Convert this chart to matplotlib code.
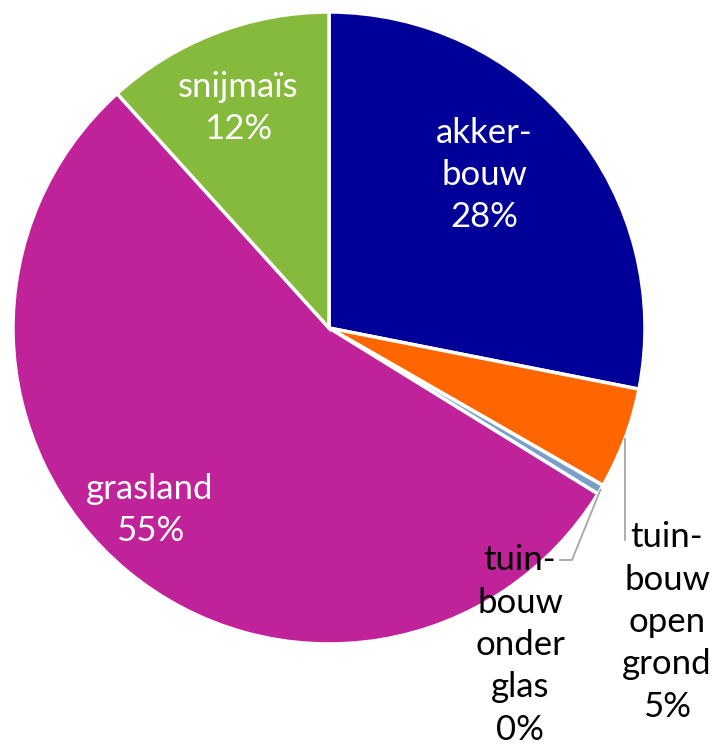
import numpy as np
import matplotlib
matplotlib.use("Agg")
import matplotlib.pyplot as plt

categories = ["akkerbouw", "tuinbouw open grond", "tuinbouw onder glas", "grasland", "snijmaïs"]
label_texts = ["akker-\nbouw", "tuin-\nbouw\nopen\ngrond", "tuin-\nbouw\nonder\nglas", "grasland", "snijmaïs"]
values = [28.1, 5.2, 0.5, 54.5, 11.7]
pct_labels = ["28%", "5%", "0%", "55%", "12%"]
colors = ["#000099", "#FF6600", "#7A9FC8", "#C0229A", "#86BA3C"]

W, H = 715, 752
fig = plt.figure(figsize=(W / 100, H / 100), dpi=100)
ax = fig.add_axes([0, 0, 1, 1])
ax.set_xlim(0, W)
ax.set_ylim(0, H)
ax.set_aspect("equal")
ax.axis("off")

cx, cy, R = 329, H - 328, 316
wedges, _ = ax.pie(values, colors=colors, startangle=90, counterclock=False,
                   center=(cx, cy), radius=R, frame=True,
                   wedgeprops=dict(edgecolor="white", linewidth=2.5))
ax.set_xlim(0, W)
ax.set_ylim(0, H)
ax.axis("off")

font = dict(family=["Lato", "DejaVu Sans"], fontsize=25, ha="center", va="center",
            linespacing=1.4)

def txt(x, y, s, color):
    ax.text(x, H - y, s, color=color, **font)

txt(484, 175, label_texts[0] + "\n" + pct_labels[0], "white")
txt(238, 108, label_texts[4] + "\n" + pct_labels[4], "white")
txt(150, 510, label_texts[3] + "\n" + pct_labels[3], "white")
txt(520, 645, label_texts[2] + "\n" + pct_labels[2], "black")
txt(667, 622, label_texts[1] + "\n" + pct_labels[1], "black")

# leader lines
def edge_point(w):
    a = np.deg2rad((w.theta1 + w.theta2) / 2)
    return cx + R * np.cos(a), cy + R * np.sin(a)

x1, y1 = edge_point(wedges[1])
ax.plot([x1, x1], [y1, H - 540], color="#A6A6A6", lw=1.3)
x2, y2 = edge_point(wedges[2])
ax.plot([x2, 572, 560], [y2, H - 560, H - 560], color="#A6A6A6", lw=1.3)

fig.savefig("out.png", dpi=100)
